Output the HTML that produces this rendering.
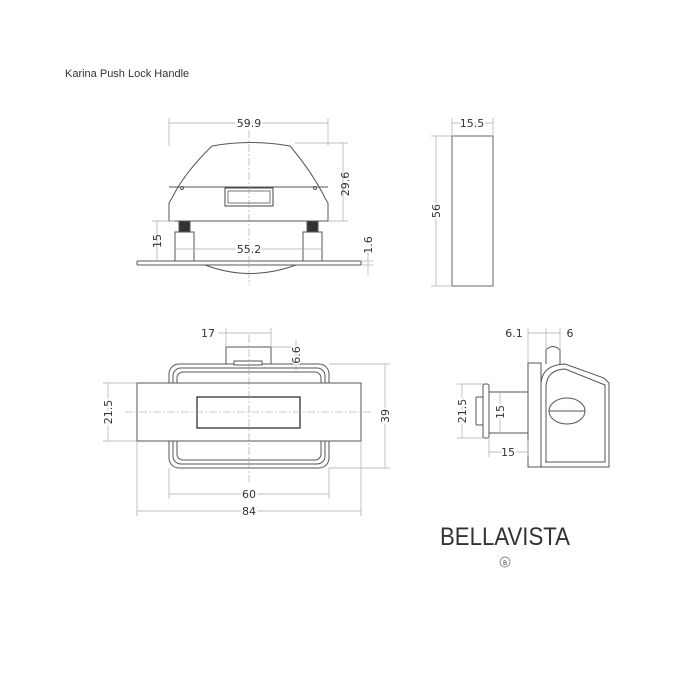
<!DOCTYPE html>
<html><head><style>
html,body{margin:0;padding:0;background:#fff;}
svg{display:block;}
text{font-family:"DejaVu Sans","Liberation Sans",sans-serif;fill:#333;}
</style></head><body>
<svg width="700" height="700" viewBox="0 0 700 700" xmlns="http://www.w3.org/2000/svg">
<text x="65" y="77" font-size="11" style="font-family:'Liberation Sans',sans-serif" fill="#333">Karina Push Lock Handle</text>

<g fill="none" stroke="#555" stroke-width="1">
<!-- top view -->
<path d="M212,146 Q250,139 290,146 Q312,172 325,198 L328,203 L328,221 L169,221 L169,203 L172,198 Q185,172 212,146 Z" fill="#fff"/>
<path d="M169,187 L328,187"/>
<circle cx="182" cy="188" r="1.5"/><circle cx="315" cy="188" r="1.5"/>
<rect x="225" y="188" width="48" height="18" stroke="#444"/>
<rect x="228" y="191" width="42" height="12" stroke="#777"/>
<rect x="175" y="232" width="19" height="29"/>
<rect x="303" y="232" width="19" height="29"/>
<rect x="179" y="221" width="11" height="11" fill="#333"/>
<rect x="307" y="221" width="11" height="11" fill="#333"/>
<rect x="137" y="261" width="224" height="4" rx="1"/>
<path d="M205,265 Q250,282 296,265"/>
<!-- side view -->
<rect x="452" y="136" width="41" height="150" stroke="#666"/>
<!-- front view -->
<rect x="169" y="364" width="160" height="104" rx="10"/>
<rect x="173" y="368" width="152" height="96" rx="8"/>
<rect x="177" y="372" width="144" height="88" rx="6"/>
<rect x="226" y="347" width="45" height="17" fill="#fff"/>
<rect x="234" y="361" width="28" height="4" fill="#fff"/>
<rect x="137" y="383" width="224" height="58" fill="#fff"/>
<rect x="197" y="397" width="103" height="31" stroke="#333" stroke-width="1.3"/>
<!-- right view -->
<rect x="476" y="397" width="7" height="28" rx="1"/>
<rect x="483" y="384" width="6" height="54" rx="2"/>
<rect x="489" y="392" width="39" height="41"/>
<path d="M546,364 L546,350 Q553,343 560,350 L560,364"/>
<rect x="528" y="363" width="13" height="104"/>
<path d="M541,467 L609,467 L609,383 L604,378 L565,364 Q541,365 541,385 Z" fill="#fff"/>
<path d="M545,462 L605,462 L605,385 L565,369 Q546,370 546,388 L546,462"/>
<ellipse cx="567" cy="411" rx="18" ry="13"/>
<line x1="549" y1="411" x2="585" y2="411"/>
</g>

<!-- center lines -->
<g stroke="#999" stroke-width="0.6" stroke-dasharray="8,2,2,2" fill="none">
<line x1="249" y1="130" x2="249" y2="285"/>
<line x1="125" y1="412" x2="373" y2="412"/>
<line x1="249" y1="335" x2="249" y2="482"/>
</g>

<!-- dimension lines -->
<g stroke="#aaa" stroke-width="0.7" fill="none">
<line x1="169" y1="123" x2="328" y2="123"/><line x1="169" y1="118" x2="169" y2="146"/><line x1="328" y1="118" x2="328" y2="146"/>
<line x1="343" y1="143" x2="343" y2="221"/><line x1="295" y1="143" x2="348" y2="143"/><line x1="328" y1="221" x2="348" y2="221"/>
<line x1="157" y1="221" x2="157" y2="261"/><line x1="152" y1="221" x2="175" y2="221"/>
<line x1="176" y1="249" x2="322" y2="249"/>
<line x1="368" y1="252" x2="368" y2="275"/><line x1="361" y1="261" x2="373" y2="261"/><line x1="361" y1="265" x2="373" y2="265"/>
<line x1="452" y1="123" x2="493" y2="123"/><line x1="452" y1="118" x2="452" y2="136"/><line x1="493" y1="118" x2="493" y2="136"/>
<line x1="436" y1="136" x2="436" y2="286"/><line x1="431" y1="136" x2="452" y2="136"/><line x1="431" y1="286" x2="452" y2="286"/>
<line x1="218" y1="333" x2="271" y2="333"/><line x1="226" y1="328" x2="226" y2="347"/><line x1="271" y1="328" x2="271" y2="347"/>
<line x1="296" y1="340" x2="296" y2="372"/><line x1="271" y1="347" x2="300" y2="347"/>
<line x1="385" y1="364" x2="385" y2="468"/><line x1="329" y1="364" x2="390" y2="364"/><line x1="329" y1="468" x2="390" y2="468"/>
<line x1="108" y1="383" x2="108" y2="441"/><line x1="103" y1="383" x2="137" y2="383"/><line x1="103" y1="441" x2="137" y2="441"/>
<line x1="169" y1="494" x2="329" y2="494"/><line x1="169" y1="468" x2="169" y2="499"/><line x1="329" y1="468" x2="329" y2="499"/>
<line x1="137" y1="511" x2="361" y2="511"/><line x1="137" y1="441" x2="137" y2="516"/><line x1="361" y1="441" x2="361" y2="516"/>
<line x1="528" y1="333" x2="560" y2="333"/><line x1="528" y1="328" x2="528" y2="363"/><line x1="546" y1="328" x2="546" y2="350"/><line x1="560" y1="328" x2="560" y2="350"/>
<line x1="462" y1="384" x2="462" y2="438"/><line x1="457" y1="384" x2="483" y2="384"/><line x1="457" y1="438" x2="483" y2="438"/>
<line x1="500" y1="392" x2="500" y2="433"/>
<line x1="489" y1="452" x2="528" y2="452"/><line x1="489" y1="438" x2="489" y2="457"/><line x1="528" y1="440" x2="528" y2="457"/>
</g>

<g font-size="11" text-anchor="middle">
<text x="249" y="127" style="paint-order:stroke" stroke="#fff" stroke-width="4">59.9</text>
<text x="249" y="253" stroke="#fff" stroke-width="4" style="paint-order:stroke">55.2</text>
<text transform="translate(349,184) rotate(-90)">29.6</text>
<text transform="translate(161,241) rotate(-90)">15</text>
<text transform="translate(372,245) rotate(-90)">1.6</text>
<text x="472" y="127" stroke="#fff" stroke-width="4" style="paint-order:stroke">15.5</text>
<text transform="translate(440,211) rotate(-90)" stroke="#fff" stroke-width="4" style="paint-order:stroke">56</text>
<text x="208" y="337">17</text>
<text transform="translate(300,355) rotate(-90)" stroke="#fff" stroke-width="3" style="paint-order:stroke">6.6</text>
<text transform="translate(389,416) rotate(-90)" stroke="#fff" stroke-width="4" style="paint-order:stroke">39</text>
<text transform="translate(112,412) rotate(-90)" stroke="#fff" stroke-width="4" style="paint-order:stroke">21.5</text>
<text x="249" y="498" stroke="#fff" stroke-width="4" style="paint-order:stroke">60</text>
<text x="249" y="515" stroke="#fff" stroke-width="4" style="paint-order:stroke">84</text>
<text x="514" y="337">6.1</text>
<text x="570" y="337">6</text>
<text transform="translate(466,411) rotate(-90)" stroke="#fff" stroke-width="4" style="paint-order:stroke">21.5</text>
<text transform="translate(504,412) rotate(-90)" stroke="#fff" stroke-width="4" style="paint-order:stroke">15</text>
<text x="508" y="456" stroke="#fff" stroke-width="4" style="paint-order:stroke">15</text>
</g>

<text x="505" y="545" font-size="25" text-anchor="middle" textLength="130" lengthAdjust="spacingAndGlyphs" style="font-family:'Liberation Sans',sans-serif" fill="#444">BELLAVISTA</text>
<circle cx="505" cy="562" r="5" fill="none" stroke="#666" stroke-width="0.7"/>
<text x="505" y="565" font-size="6" text-anchor="middle">B</text>
</svg>
</body></html>
